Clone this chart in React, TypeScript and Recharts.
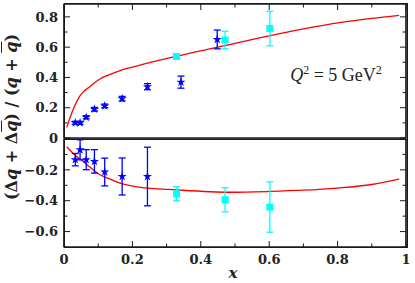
import React from 'react';
import { ComposedChart, Line, Scatter, XAxis, YAxis, ErrorBar, Symbols, ReferenceArea } from 'recharts';

// ---- data ----
const curveUpX = [0.008, 0.027, 0.047, 0.076, 0.105, 0.135, 0.17, 0.22, 0.33, 0.45, 0.6, 0.7, 0.8, 0.9, 0.98];
const curveUpY = [0.07, 0.19, 0.28, 0.34, 0.39, 0.42, 0.45, 0.48, 0.54, 0.60, 0.675, 0.72, 0.76, 0.79, 0.81];

const curveLoX = [0.008, 0.03, 0.056, 0.08, 0.105, 0.135, 0.164, 0.22, 0.33, 0.485, 0.6, 0.7, 0.8, 0.9, 0.98];
const curveLoY = [-0.05, -0.1, -0.145, -0.19, -0.232, -0.26, -0.286, -0.312, -0.33, -0.345, -0.34, -0.332, -0.318, -0.295, -0.26];

const starUpX = [0.033, 0.047, 0.065, 0.089, 0.119, 0.17, 0.244, 0.342, 0.448];
const starUpY = [0.10, 0.10, 0.137, 0.19, 0.212, 0.26, 0.339, 0.369, 0.651];
const starUpErr = [0.01, 0.01, 0.01, 0.012, 0.012, 0.015, 0.02, 0.04, 0.062];

const starLoX = [0.033, 0.047, 0.065, 0.089, 0.119, 0.17, 0.244];
const starLoY = [-0.134, -0.07, -0.134, -0.145, -0.214, -0.243, -0.243];
const starLoErr = [0.04, 0.065, 0.065, 0.076, 0.09, 0.12, 0.19];

const cyanX = [0.329, 0.471, 0.602];
const cyanUpY = [0.538, 0.647, 0.723];
const cyanUpErr = [0.012, 0.058, 0.114];
const cyanLoY = [-0.355, -0.394, -0.441];
const cyanLoErr = [0.045, 0.078, 0.163];

const xTicks = [0, 0.1, 0.2, 0.3, 0.4, 0.5, 0.6, 0.7, 0.8, 0.9, 1];
const upTicks = [0, 0.1, 0.2, 0.3, 0.4, 0.5, 0.6, 0.7, 0.8];
const loTicks = [-0.7, -0.6, -0.5, -0.4, -0.3, -0.2, -0.1, 0];

// ---- style ----
const FRAME = '#1a1a1a';
const BLUE = '#0000ff';
const CYAN = '#00ffff';
const RED = '#ff0000';
const SERIF = '"DejaVu Serif", serif';

const zip = (xs: number[], ys: number[], es?: number[]) =>
  xs.map((x, i) => ({ x, y: ys[i], e: es ? es[i] : 0 }));

const curveUp = zip(curveUpX, curveUpY);
const curveLo = zip(curveLoX, curveLoY);
const starUp = zip(starUpX, starUpY, starUpErr);
const starLo = zip(starLoX, starLoY, starLoErr);
const cyanUp = zip(cyanX, cyanUpY, cyanUpErr);
const cyanLo = zip(cyanX, cyanLoY, cyanLoErr);

const isMajor = (v: number) => Math.abs(Math.round(v * 10)) % 2 === 0;
const fmt = (v: number) => {
  if (Math.abs(v) < 1e-9) return '0';
  if (Math.abs(v - 1) < 1e-9) return '1';
  return (v < 0 ? '\u2212' : '') + Math.abs(v).toFixed(1);
};

const MAJ = 6;
const MIN = 3.5;

const LeftTickUp = (p: any) => {
  const v = p.payload.value;
  const major = isMajor(v);
  return (
    <g>
      <path d={`M${p.x},${p.y}h${major ? MAJ : MIN}`} stroke={FRAME} fill="none" />
      {major && (
        <text x={p.x - 6} y={p.y} dy="0.36em" textAnchor="end" fontFamily={SERIF} fontWeight="bold" fontSize={13} fill="#222">
          {fmt(v)}
        </text>
      )}
    </g>
  );
};

const LeftTickLo = (p: any) => {
  const v = p.payload.value;
  const major = isMajor(v);
  const lab = major && Math.abs(v) > 1e-9;
  return (
    <g>
      <path d={`M${p.x},${p.y}h${major ? MAJ : MIN}`} stroke={FRAME} fill="none" />
      {lab && (
        <text x={p.x - 6} y={p.y} dy="0.36em" textAnchor="end" fontFamily={SERIF} fontWeight="bold" fontSize={13} fill="#222">
          {fmt(v)}
        </text>
      )}
    </g>
  );
};

const RightTick = (p: any) => (
  <g><path d={`M${p.x},${p.y}h${-(isMajor(p.payload.value) ? MAJ : MIN)}`} stroke={FRAME} fill="none" /></g>
);

const TopTick = (p: any) => (
  <g><path d={`M${p.x},${p.y}v${isMajor(p.payload.value) ? MAJ : MIN}`} stroke={FRAME} fill="none" /></g>
);

const BottomTick = (p: any) => {
  const v = p.payload.value;
  const major = isMajor(v);
  return (
    <g>
      <path d={`M${p.x},${p.y}v${-(major ? MAJ : MIN)}`} stroke={FRAME} fill="none" />
      {major && (
        <text x={p.x} y={p.y + 17} textAnchor="middle" fontFamily={SERIF} fontWeight="bold" fontSize={13} fill="#222">
          {fmt(v)}
        </text>
      )}
    </g>
  );
};

const StarShape = (p: any) => <Symbols cx={p.cx} cy={p.cy} type="star" size={26} fill={BLUE} />;
const SquareShape = (p: any) => <Symbols cx={p.cx} cy={p.cy} type="square" size={50} fill={CYAN} />;

const UP_DOMAIN: [number, number] = [0, 0.885];
const LO_DOMAIN: [number, number] = [-0.7, 0];
const X_DOMAIN: [number, number] = [0, 1];
const AX = { stroke: FRAME, strokeWidth: 1.2 };

const q = (bar: boolean) => (
  <span style={{ fontStyle: 'italic', textDecoration: bar ? 'overline' : 'none' }}>q</span>
);

export default function App() {
  return (
    <div style={{ position: 'absolute', left: 0, top: 0, width: 415, height: 283 }}>
      <div style={{ position: 'absolute', left: 0, top: 0 }}>
        <ComposedChart width={415} height={150} margin={{ top: 3, right: 8, bottom: 11, left: 0 }}>
          <XAxis xAxisId="b" type="number" dataKey="x" domain={X_DOMAIN} allowDataOverflow height={1} tick={false} tickLine={false} axisLine={AX} />
          <XAxis xAxisId="t" type="number" dataKey="x" domain={X_DOMAIN} allowDataOverflow orientation="top" height={1}
            ticks={xTicks} interval={0} tick={TopTick} tickLine={false} tickSize={0} tickMargin={0} axisLine={AX} />
          <YAxis yAxisId="l" type="number" domain={UP_DOMAIN} allowDataOverflow width={64} ticks={upTicks} interval={0}
            tick={LeftTickUp} tickLine={false} tickSize={0} tickMargin={0} axisLine={AX} />
          <YAxis yAxisId="r" orientation="right" type="number" domain={UP_DOMAIN} allowDataOverflow width={1} ticks={upTicks} interval={0}
            tick={RightTick} tickLine={false} tickSize={0} tickMargin={0} axisLine={AX} />
          <ReferenceArea xAxisId="b" yAxisId="l" x1={X_DOMAIN[0]} x2={X_DOMAIN[1]} y1={UP_DOMAIN[0]} y2={UP_DOMAIN[1]}
            stroke={FRAME} strokeWidth={1.2} fill="none" fillOpacity={0} ifOverflow="extendDomain" />
          <Line xAxisId="b" yAxisId="l" data={curveUp} dataKey="y" type="monotone" stroke={RED} strokeWidth={1.3} dot={false} isAnimationActive={false} />
          <Scatter xAxisId="b" yAxisId="l" data={starUp} dataKey="y" shape={StarShape} isAnimationActive={false}>
            <ErrorBar dataKey="e" direction="y" width={3.5} stroke={BLUE} strokeWidth={1.3} />
          </Scatter>
          <Scatter xAxisId="b" yAxisId="l" data={cyanUp} dataKey="y" shape={SquareShape} isAnimationActive={false}>
            <ErrorBar dataKey="e" direction="y" width={3.5} stroke={CYAN} strokeWidth={1.3} />
          </Scatter>
        </ComposedChart>
      </div>
      <div style={{ position: 'absolute', left: 0, top: 138 }}>
        <ComposedChart width={415} height={145} margin={{ top: 1, right: 8, bottom: 0, left: 0 }}>
          <XAxis xAxisId="b" type="number" dataKey="x" domain={X_DOMAIN} allowDataOverflow height={36}
            ticks={xTicks} interval={0} tick={BottomTick} tickLine={false} tickSize={0} tickMargin={0} axisLine={AX} />
          <YAxis yAxisId="l" type="number" domain={LO_DOMAIN} allowDataOverflow width={64} ticks={loTicks} interval={0}
            tick={LeftTickLo} tickLine={false} tickSize={0} tickMargin={0} axisLine={AX} />
          <YAxis yAxisId="r" orientation="right" type="number" domain={LO_DOMAIN} allowDataOverflow width={1} ticks={loTicks} interval={0}
            tick={RightTick} tickLine={false} tickSize={0} tickMargin={0} axisLine={AX} />
          <ReferenceArea xAxisId="b" yAxisId="l" x1={X_DOMAIN[0]} x2={X_DOMAIN[1]} y1={LO_DOMAIN[0]} y2={LO_DOMAIN[1]}
            stroke={FRAME} strokeWidth={1.2} fill="none" fillOpacity={0} ifOverflow="extendDomain" />
          <Line xAxisId="b" yAxisId="l" data={curveLo} dataKey="y" type="monotone" stroke={RED} strokeWidth={1.3} dot={false} isAnimationActive={false} />
          <Scatter xAxisId="b" yAxisId="l" data={starLo} dataKey="y" shape={StarShape} isAnimationActive={false}>
            <ErrorBar dataKey="e" direction="y" width={3.5} stroke={BLUE} strokeWidth={1.3} />
          </Scatter>
          <Scatter xAxisId="b" yAxisId="l" data={cyanLo} dataKey="y" shape={SquareShape} isAnimationActive={false}>
            <ErrorBar dataKey="e" direction="y" width={3.5} stroke={CYAN} strokeWidth={1.3} />
          </Scatter>
        </ComposedChart>
      </div>
      {/* plot frame (panel borders and divider) */}
      <div style={{ position: 'absolute', left: 64, top: 3, width: 344, height: 245, boxSizing: 'border-box',
        border: `1px solid ${FRAME}`, pointerEvents: 'none' }} />
      <div style={{ position: 'absolute', left: 64, top: 139, width: 344, height: 1, background: FRAME, pointerEvents: 'none' }} />
      <div style={{ position: 'absolute', left: -108, top: 107, width: 240, height: 20, lineHeight: '20px', textAlign: 'center',
        transform: 'rotate(-90deg)', fontFamily: SERIF, fontWeight: 'bold', fontSize: 16, color: '#222', whiteSpace: 'nowrap', pointerEvents: 'none' }}>
        ({'\u0394'}{q(false)} + {'\u0394'}{q(true)}) / ({q(false)} + {q(true)})
      </div>
      <div style={{ position: 'absolute', left: 213, top: 265, width: 40, height: 16, lineHeight: '16px', textAlign: 'center',
        fontFamily: SERIF, fontWeight: 'bold', fontStyle: 'italic', fontSize: 15, color: '#222', pointerEvents: 'none' }}>
        x
      </div>
      <div style={{ position: 'absolute', left: 276, top: 65, width: 120, height: 20, lineHeight: '20px', textAlign: 'center',
        fontFamily: '"Liberation Serif", serif', fontSize: 18, color: '#222', whiteSpace: 'nowrap', pointerEvents: 'none' }}>
        <span style={{ fontStyle: 'italic' }}>Q</span>
        <span style={{ fontSize: 12, position: 'relative', top: -7 }}>2</span>
        {' = 5 GeV'}
        <span style={{ fontSize: 12, position: 'relative', top: -7 }}>2</span>
      </div>
    </div>
  );
}
